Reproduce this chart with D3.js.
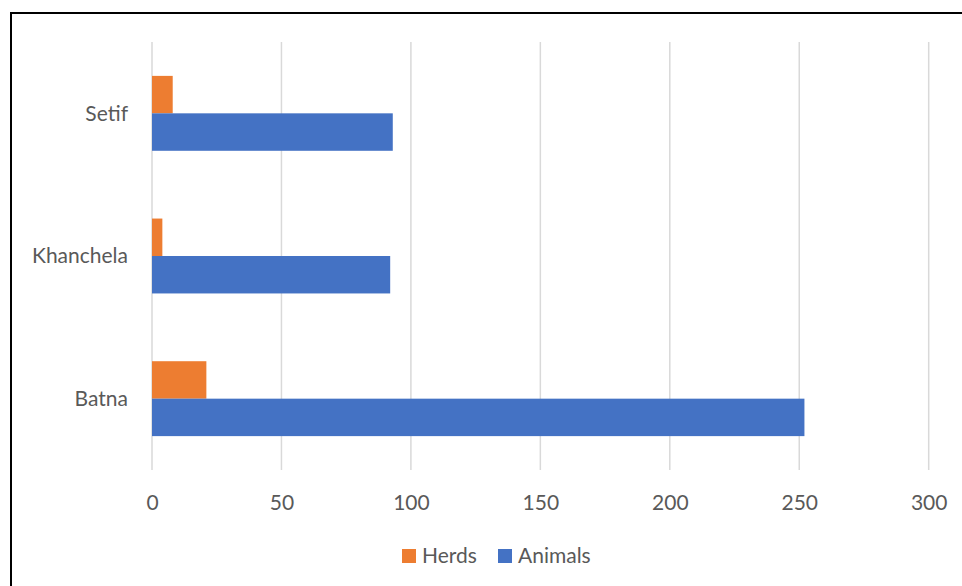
<!DOCTYPE html>
<html>
<head>
<meta charset="utf-8">
<script src="https://cdn.jsdelivr.net/npm/d3@7"></script>
<style>
  html, body { margin: 0; padding: 0; background: #fff; }
  svg { display: block; }
  text { font-family: Lato, "Open Sans", sans-serif; fill: #595959; }
</style>
</head>
<body>
<svg id="chart" width="962" height="586"></svg>
<script>
// Regions, drawn top to bottom
const categories = ["Setif", "Khanchela", "Batna"];
const seriesNames = ["Herds", "Animals"];
const herds = [8, 4, 21];
const animals = [93, 92, 252];
const xTicks = [0, 50, 100, 150, 200, 250, 300];
const colors = ["#ed7d31", "#4472c4"];

const svg = d3.select("#chart");
const W = 962, H = 586;

// outer frame
svg.append("rect")
  .attr("x", 11).attr("y", 13)
  .attr("width", W).attr("height", H)
  .attr("fill", "none").attr("stroke", "#000").attr("stroke-width", 2);

const plot = { left: 152, right: 928.7, top: 42, bottom: 470 };

const x = d3.scaleLinear().domain([0, 300]).range([plot.left, plot.right]);
const y = d3.scaleBand().domain(categories).range([plot.top, plot.bottom]).paddingInner(0.475).paddingOuter(0.2375);
const ySub = d3.scaleBand().domain(seriesNames).range([0, y.bandwidth()]);

// vertical gridlines
svg.append("g").selectAll("line").data(xTicks).join("line")
  .attr("x1", d => x(d)).attr("x2", d => x(d))
  .attr("y1", plot.top).attr("y2", plot.bottom)
  .attr("stroke", "#d9d9d9").attr("stroke-width", 1.5);

// x tick labels
const xAxis = d3.axisBottom(x).tickValues(xTicks).tickSize(0).tickPadding(0);
const gx = svg.append("g").attr("transform", `translate(0,${plot.bottom})`).call(xAxis);
gx.select(".domain").remove();
gx.selectAll("text")
  .attr("y", 33).attr("dy", "0.35em")
  .style("font-size", "21px").style("font-family", "Lato, sans-serif").attr("fill", "#595959");

// category labels
const yAxis = d3.axisLeft(y).tickSize(0).tickPadding(0);
const gy = svg.append("g").attr("transform", `translate(128,0)`).call(yAxis);
gy.select(".domain").remove();
gy.selectAll("text")
  .attr("dy", "0.35em")
  .style("font-size", "21px").style("font-family", "Lato, sans-serif").attr("fill", "#595959");

// bars
const rows = categories.map((c, i) => ({ cat: c, values: [herds[i], animals[i]] }));
const groups = svg.append("g").selectAll("g").data(rows).join("g")
  .attr("transform", d => `translate(0,${y(d.cat)})`);
groups.selectAll("rect")
  .data(d => d.values.map((v, j) => ({ name: seriesNames[j], value: v, color: colors[j] })))
  .join("rect")
  .attr("x", x(0))
  .attr("y", d => ySub(d.name))
  .attr("width", d => x(d.value) - x(0))
  .attr("height", ySub.bandwidth())
  .attr("fill", d => d.color);

// legend
const legendItems = [
  { name: seriesNames[0], color: colors[0], x: 402 },
  { name: seriesNames[1], color: colors[1], x: 498 }
];
const lg = svg.append("g").selectAll("g").data(legendItems).join("g")
  .attr("transform", d => `translate(${d.x},549)`);
lg.append("rect").attr("width", 14).attr("height", 14).attr("fill", d => d.color);
lg.append("text").attr("x", 20).attr("y", 7).attr("dy", "0.35em")
  .style("font-size", "21px").text(d => d.name);
</script>
</body>
</html>
